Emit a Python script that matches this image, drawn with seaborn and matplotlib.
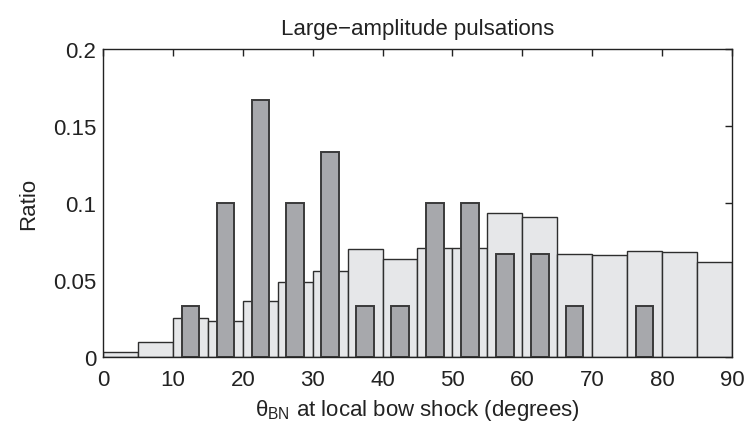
import numpy as np
import pandas as pd
import matplotlib
matplotlib.use("Agg")
import matplotlib.pyplot as plt
import seaborn as sns

# Data
bin_centers = [2.5, 7.5, 12.5, 17.5, 22.5, 27.5, 32.5, 37.5, 42.5, 47.5,
               52.5, 57.5, 62.5, 67.5, 72.5, 77.5, 82.5, 87.5]
all_ratio = [0.0035, 0.010, 0.025, 0.0234, 0.0366, 0.049, 0.0556, 0.070, 0.0634, 0.0708,
             0.0708, 0.0937, 0.0907, 0.0671, 0.0662, 0.069, 0.0684, 0.0615]
large_ratio = [0.0, 0.0, 0.0333, 0.1, 0.1667, 0.1, 0.1333, 0.0333, 0.0333, 0.1,
               0.1, 0.0667, 0.0667, 0.0333, 0.0, 0.0333, 0.0, 0.0]
x_ticks = [0, 10, 20, 30, 40, 50, 60, 70, 80, 90]
y_ticks = [0, 0.05, 0.1, 0.15, 0.2]
y_tick_labels = ["0", "0.05", "0.1", "0.15", "0.2"]

sns.set_style("white")
plt.rcParams['font.family'] = ['Liberation Sans', 'DejaVu Sans']
plt.rcParams['mathtext.fontset'] = 'custom'
plt.rcParams['mathtext.rm'] = 'Liberation Sans'
plt.rcParams['mathtext.it'] = 'Liberation Sans:italic'

fig = plt.figure(figsize=(7.48, 4.27), dpi=100)
ax = fig.add_axes([0.1377, 0.1616, 0.8409, 0.7213])

df_all = pd.DataFrame({"x": bin_centers, "y": all_ratio})
df_large = pd.DataFrame({"x": bin_centers, "y": large_ratio})
df_large = df_large[df_large["y"] > 0]

sns.barplot(data=df_all, x="x", y="y", native_scale=True, width=1.0,
            color="#e6e7e9", saturation=1, edgecolor="#2e2e2e", linewidth=1.0,
            ax=ax, zorder=2)
sns.barplot(data=df_large, x="x", y="y", native_scale=True, width=0.5,
            color="#a7a8ac", saturation=1, edgecolor="#3a3a3a", linewidth=1.4,
            ax=ax, zorder=3)

ax.set_xlim(0, 90)
ax.set_ylim(0, 0.2)
ax.set_xticks(x_ticks)
ax.set_xticklabels([str(t) for t in x_ticks])
ax.set_yticks(y_ticks)
ax.set_yticklabels(y_tick_labels)
ax.tick_params(direction='in', length=5, width=1, top=True, right=True,
               labelsize=16, colors='#222222', pad=5)
ax.tick_params(axis='x', pad=9)
for s in ax.spines.values():
    s.set_visible(True)
    s.set_color('#222222')
    s.set_linewidth(1.0)
    s.set_zorder(5)

ax.set_title("Large\u2212amplitude pulsations", fontsize=16, color='#222222', pad=11)
ax.set_xlabel(r"θ$_{\mathregular{BN}}$ at local bow shock (degrees)", fontsize=16,
              color='#222222', labelpad=5)
ax.set_ylabel("Ratio", fontsize=16, color='#222222', labelpad=10)

fig.savefig("out.png", dpi=100)
